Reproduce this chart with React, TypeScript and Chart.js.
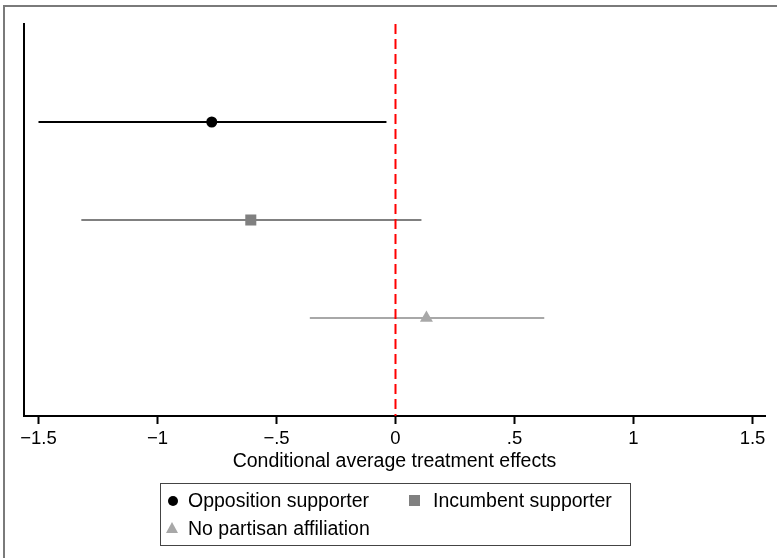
import React, { useEffect, useRef } from "react";
import { Chart, registerables } from "chart.js";

Chart.register(...registerables);

// ---- Data ----
const groups = ["Opposition supporter", "Incumbent supporter", "No partisan affiliation"];
const estimates = [-0.772, -0.608, 0.13];
const lowerCI = [-1.5, -1.32, -0.36];
const upperCI = [-0.038, 0.109, 0.625];
const groupColors = ["#000000", "#808080", "#a8a8a8"];
const pointStyles = ["circle", "rect", "triangle"];
const pointRadii = [5.5, 7.8, 7.5];
const tickValues = [-1.5, -1, -0.5, 0, 0.5, 1, 1.5];
const tickLabels = ["\u22121.5", "\u22121", "\u2212.5", "0", ".5", "1", "1.5"];
const refLineX = 0;
const xTitle = "Conditional average treatment effects";

const FONT = "'Liberation Sans', Arial, Helvetica, sans-serif";

export default function App() {
  const canvasRef = useRef<HTMLCanvasElement | null>(null);

  useEffect(() => {
    const canvas = canvasRef.current;
    if (!canvas) return;

    const datasets: any[] = [];
    // markers (drawn on top)
    groups.forEach((g, i) => {
      datasets.push({
        label: g,
        data: [{ x: estimates[i], y: i + 1 }],
        pointStyle: pointStyles[i],
        pointRadius: pointRadii[i],
        pointBackgroundColor: groupColors[i],
        pointBorderColor: groupColors[i],
        pointBorderWidth: 0,
        showLine: false,
      });
    });
    // reference line
    datasets.push({
      label: "ref",
      data: [
        { x: refLineX, y: 0 },
        { x: refLineX, y: 4 },
      ],
      borderColor: "#ff0000",
      borderWidth: 2,
      borderDash: [10, 5],
      pointRadius: 0,
      showLine: true,
    });
    // confidence intervals
    groups.forEach((g, i) => {
      datasets.push({
        label: g + " CI",
        data: [
          { x: lowerCI[i], y: i + 1 },
          { x: upperCI[i], y: i + 1 },
        ],
        borderColor: groupColors[i],
        borderWidth: 2,
        pointRadius: 0,
        showLine: true,
      });
    });

    const chart = new Chart(canvas, {
      type: "scatter",
      data: { datasets },
      options: {
        animation: false,
        responsive: false,
        devicePixelRatio: 1,
        layout: { padding: { top: 24, left: 24, right: 12, bottom: 85 } },
        plugins: {
          legend: { display: false },
          tooltip: { enabled: false },
        },
        scales: {
          x: {
            type: "linear",
            position: "bottom",
            min: -1.5609,
            max: 1.5525,
            afterBuildTicks: (scale: any) => {
              scale.ticks = tickValues.map((v) => ({ value: v }));
            },
            afterFit: (scale: any) => {
              scale.height = 57;
            },
            ticks: {
              autoSkip: false,
              maxRotation: 0,
              padding: 4,
              color: "#000",
              font: { family: FONT, size: 18.5 },
              callback: (_v: any, i: number) => tickLabels[i],
            },
            grid: {
              display: true,
              drawOnChartArea: false,
              drawTicks: true,
              tickLength: 8,
              tickWidth: 2,
              tickColor: "#000",
            },
            border: { display: true, width: 2, color: "#000" },
            title: {
              display: true,
              text: xTitle,
              color: "#000",
              padding: 0,
              font: { family: FONT, size: 19.5 },
            },
          },
          y: {
            type: "linear",
            position: "left",
            min: 0,
            max: 4,
            reverse: true,
            afterFit: (scale: any) => {
              scale.width = 0;
            },
            ticks: { display: false },
            grid: { display: true, drawOnChartArea: false, drawTicks: false },
            border: { display: true, width: 2, color: "#000" },
          },
        },
      },
    });
    return () => chart.destroy();
  }, []);

  const legendText: React.CSSProperties = {
    position: "absolute",
    fontFamily: FONT,
    fontSize: "19.5px",
    color: "#000",
    lineHeight: "22px",
    whiteSpace: "nowrap",
  };

  return (
    <div
      style={{
        position: "fixed",
        left: 0,
        top: 0,
        width: 777,
        height: 558,
        background: "#fff",
        overflow: "hidden",
      }}
    >
      <canvas
        ref={canvasRef}
        width={777}
        height={558}
        style={{ position: "absolute", left: 0, top: 0, width: 777, height: 558 }}
      />
      {/* outer frame */}
      <div
        style={{
          position: "absolute",
          left: 3,
          top: 5,
          width: 790,
          height: 570,
          borderTop: "2px solid #7a7a7a",
          borderLeft: "2px solid #7a7a7a",
          boxSizing: "border-box",
          pointerEvents: "none",
        }}
      />
      {/* legend */}
      <div
        style={{
          position: "absolute",
          left: 160,
          top: 483,
          width: 471,
          height: 63,
          border: "1px solid #444",
          boxSizing: "border-box",
        }}
      >
        {/* circle */}
        <div
          style={{
            position: "absolute",
            left: 7,
            top: 11.5,
            width: 10,
            height: 10,
            borderRadius: "50%",
            background: groupColors[0],
          }}
        />
        <div style={{ ...legendText, left: 27, top: 5 }}>{groups[0]}</div>
        {/* square */}
        <div
          style={{
            position: "absolute",
            left: 248,
            top: 11,
            width: 11,
            height: 11,
            background: groupColors[1],
          }}
        />
        <div style={{ ...legendText, left: 272, top: 5 }}>{groups[1]}</div>
        {/* triangle */}
        <div
          style={{
            position: "absolute",
            left: 5,
            top: 38,
            width: 0,
            height: 0,
            borderLeft: "6.5px solid transparent",
            borderRight: "6.5px solid transparent",
            borderBottom: "11px solid " + groupColors[2],
          }}
        />
        <div style={{ ...legendText, left: 27, top: 33 }}>{groups[2]}</div>
      </div>
    </div>
  );
}
